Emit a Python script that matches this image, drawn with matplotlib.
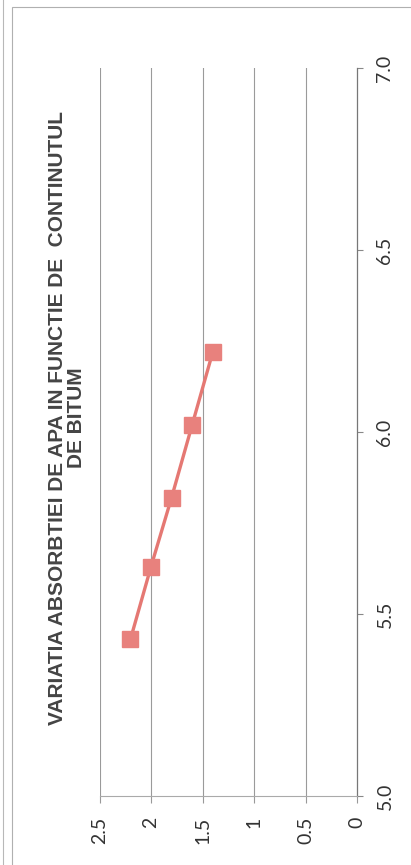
import numpy as np
import matplotlib
matplotlib.use("Agg")
import matplotlib.pyplot as plt
from matplotlib.patches import Rectangle
from matplotlib.lines import Line2D

# bitumen content (%) and water absorption (%)
bitum = [5.43, 5.63, 5.82, 6.02, 6.22]
absorbtie = [2.2, 2.0, 1.8, 1.6, 1.4]

abs_ticks = [0, 0.5, 1, 1.5, 2, 2.5]
abs_labels = ["0", "0.5", "1", "1.5", "2", "2.5"]
bit_ticks = [5.0, 5.5, 6.0, 6.5, 7.0]
bit_labels = ["5.0", "5.5", "6.0", "6.5", "7.0"]

title = "VARIATIA ABSORBTIEI DE APA IN FUNCTIE DE  CONTINUTUL\nDE BITUM"

W, H = 411, 865
fig = plt.figure(figsize=(W / 100, H / 100), dpi=100)

# page frame (scanned chart is turned on its side)
fig.patches.append(Rectangle((12 / W, -0.1), 1.1, (H - 7) / H + 0.1,
                             transform=fig.transFigure, fill=False,
                             edgecolor="#b0b0b0", linewidth=0.8))
fig.lines.append(Line2D([3 / W, 3 / W], [0, 1], transform=fig.transFigure,
                        color="#b8b8b8", linewidth=0.8))

ax = fig.add_axes([99.5 / W, (H - 796) / H, (357 - 99.5) / W, (796 - 68) / H])

ax.plot(absorbtie, bitum, color="#e57873", linewidth=2.4,
        marker="s", markersize=12, markerfacecolor="#e8817d",
        markeredgecolor="#e8817d", zorder=3)

ax.set_xlim(2.5, 0)
ax.set_ylim(5.0, 7.0)

ax.set_xticks(abs_ticks)
ax.set_xticklabels(abs_labels, rotation=90, fontsize=14, family="Lato", color="#333333")
ax.set_yticks(bit_ticks)
ax.set_yticklabels(bit_labels, rotation=90, fontsize=14, family="Lato", color="#333333",
                   va="center")

for v in [0.5, 1, 1.5, 2, 2.5]:
    ax.axvline(v, color="#9a9a9a", linewidth=0.8, zorder=1)

ax.yaxis.tick_right()
ax.tick_params(axis="y", direction="out", length=4, width=0.8, color="#888888", pad=10)
ax.tick_params(axis="x", direction="out", length=5, width=0.8, color="#999999", pad=10)

for s in ["top", "left"]:
    ax.spines[s].set_visible(False)
ax.spines["right"].set_color("#777777")
ax.spines["right"].set_linewidth(0.9)
ax.spines["bottom"].set_color("#aaaaaa")
ax.spines["bottom"].set_linewidth(0.8)

fig.text(67 / W, 1 - 418 / H, title, rotation=90, ha="center", va="center",
         multialignment="center", fontsize=15, fontweight="bold",
         family="Liberation Sans", color="#444444", linespacing=0.95)

fig.savefig("out.png", dpi=100)
